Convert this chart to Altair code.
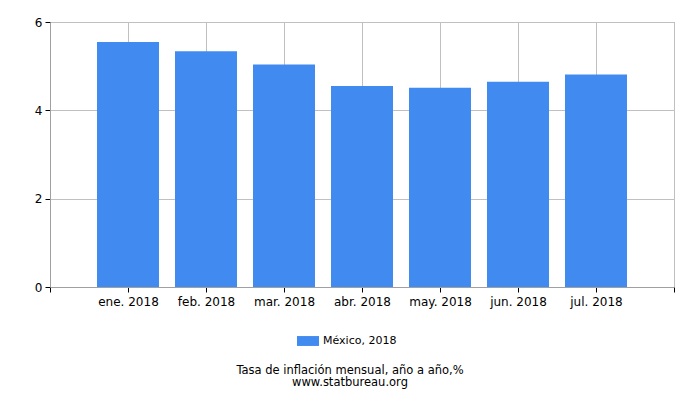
import altair as alt
import pandas as pd

months = ["ene. 2018", "feb. 2018", "mar. 2018", "abr. 2018", "may. 2018", "jun. 2018", "jul. 2018"]
values = [5.55, 5.34, 5.04, 4.55, 4.51, 4.65, 4.81]
series = "México, 2018"
title_text = "Tasa de inflación mensual, año a año,%"
subtitle_text = "www.statbureau.org"

df = pd.DataFrame({
    "pos": list(range(1, len(months) + 1)),
    "month": months,
    "value": values,
    "series": [series] * len(months),
})

label_expr = "[''," + ",".join("'" + m + "'" for m in months) + ",''][datum.value]"

chart = alt.Chart(df).mark_bar(size=62, color="#418bf0").encode(
    x=alt.X("pos:Q", scale=alt.Scale(domain=[0, len(months) + 1], nice=False, zero=False, padding=0),
            axis=alt.Axis(values=list(range(0, len(months) + 2)), labelExpr=label_expr,
                          title=None, grid=True, gridColor="#c0c0c0", domainColor="#a0a0a0",
                          tickColor="#000000", tickSize=5, labelFontSize=12,
                          labelColor="#000000", labelFont="DejaVu Sans", labelPadding=4)),
    y=alt.Y("value:Q", scale=alt.Scale(domain=[0, 6], nice=False),
            axis=alt.Axis(values=[0, 2, 4, 6], title=None, grid=True, gridColor="#c0c0c0",
                          domainColor="#a0a0a0", tickColor="#000000", tickSize=5,
                          labelFontSize=12, labelColor="#000000", labelFont="DejaVu Sans",
                          labelPadding=3)),
    color=alt.Color("series:N", scale=alt.Scale(range=["#418bf0"]),
                    legend=alt.Legend(title=None, orient="none", legendX=247, legendY=308,
                                      symbolType="M-1,-0.45H1V0.45H-1Z", symbolSize=484,
                                      symbolStrokeWidth=0, labelFontSize=11,
                                      labelFont="DejaVu Sans", labelColor="#000000",
                                      padding=0, symbolOffset=0, labelOffset=4)),
).properties(
    width=624,
    height=265,
    title=alt.TitleParams(text=title_text, subtitle=subtitle_text, orient="bottom",
                          anchor="middle", fontSize=11.5, subtitleFontSize=11.5,
                          font="DejaVu Sans", subtitleFont="DejaVu Sans",
                          fontWeight="normal", color="#000000", subtitleColor="#000000",
                          offset=19, subtitlePadding=0, dx=-12),
    autosize=alt.AutoSizeParams(type="none"),
    padding={"left": 42, "top": 14, "right": 18, "bottom": 105},
).configure_view(stroke="#a0a0a0")

chart.save("out.html", embed_options={"renderer": "svg", "actions": False})
